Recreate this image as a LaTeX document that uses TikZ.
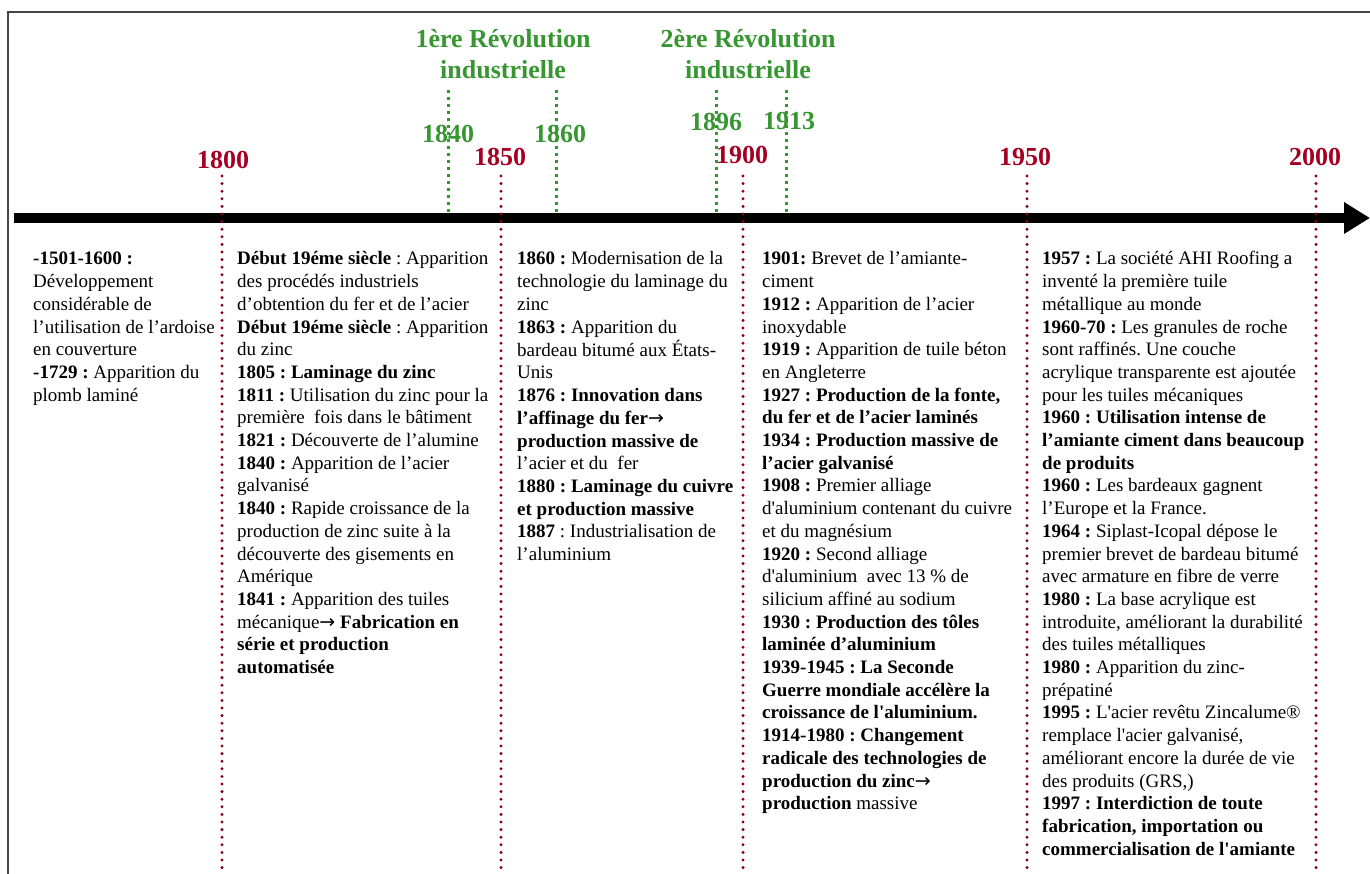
\documentclass[tikz,border=0pt]{standalone}
\usepackage{fontspec}
\setmainfont{Liberation Serif}
\newfontfamily\arrowfont{DejaVu Sans}
\usetikzlibrary{arrows.meta}
\definecolor{decred}{RGB}{165,0,33}
\definecolor{dotred}{RGB}{140,0,20}
\definecolor{revgreen}{RGB}{55,150,50}
\definecolor{framegray}{RGB}{70,70,70}
\newcommand{\tlcolumn}[1]{\begin{tabular}[t]{@{}l@{}}#1\end{tabular}}
\newcommand{\tlarrow}{{\arrowfont\mdseries\fontsize{19}{20}\selectfont →}}
\newcommand{\sq}{\textquotesingle}
\begin{document}
\begin{tikzpicture}[x=1pt,y=-1pt,
  body/.style={anchor=base west, inner sep=0pt, font=\fontsize{19}{22.7}\selectfont\frenchspacing},
  decade/.style={text=decred, font=\fontsize{26}{30}\selectfont\bfseries, inner sep=0pt},
  revyear/.style={text=revgreen, font=\fontsize{26}{30}\selectfont\bfseries, inner sep=0pt},
  revtitle/.style={text=revgreen, font=\fontsize{26}{31}\selectfont\bfseries, align=center, inner sep=0pt},
  reddots/.style={draw=dotred, line width=3.3pt, line cap=round, dash pattern=on 0pt off 7.6pt},
  greendots/.style={draw=revgreen, line width=3pt, dash pattern=on 3.5pt off 3.5pt},
  axisline/.style={line width=10pt, -{Triangle[length=26pt,width=30pt]}},
  framestyle/.style={draw=framegray, line width=1.5pt}
]
\useasboundingbox (0,0) rectangle (1370,874);
% frame
\coordinate (frTR) at (1385,12);
\coordinate (frTL) at (8,12);
\coordinate (frBL) at (8,890);
\draw[framestyle] (frTR) -- (frTL) -- (frBL);
% axis
\coordinate (axS) at (14,218);
\coordinate (axE) at (1370,218);
\draw[axisline] (axS) -- (axE);
% green revolution lines
\foreach \n/\x in {g1840/448, g1860/556, g1896/716, g1913/786}{
  \coordinate (\n t) at (\x,90);
  \coordinate (\n b) at (\x,215);
  \draw[greendots] (\n t) -- (\n b);
}
% red decade lines
\foreach \n/\x in {r1800/222, r1850/501, r1900/743, r1950/1027, r2000/1316}{
  \coordinate (\n t) at (\x,176);
  \coordinate (\n b) at (\x,874);
  \draw[reddots] (\n t) -- (\n b);
}
% headers
\node[revtitle] (rev1) at (503,54.5) {1ère Révolution\\industrielle};
\node[revtitle] (rev2) at (748,54.5) {2ère Révolution\\industrielle};
\node[revyear] (y1840) at (448,134) {1840};
\node[revyear] (y1860) at (560,134) {1860};
\node[revyear] (y1896) at (716,122) {1896};
\node[revyear] (y1913) at (789,121) {1913};
\node[decade] (d1800) at (223,160) {1800};
\node[decade] (d1850) at (500,157) {1850};
\node[decade] (d1900) at (742,155) {1900};
\node[decade] (d1950) at (1025,157) {1950};
\node[decade] (d2000) at (1315,157) {2000};
% columns
\node[body] (c1) at (33,265) {\tlcolumn{%
\textbf{-1501-1600 :}\\
Développement\\
considérable de\\
l’utilisation de l’ardoise\\
en couverture\\
\textbf{-1729 :} Apparition du\\
plomb laminé}};
\node[body] (c2) at (237,265) {\tlcolumn{%
\textbf{Début 19éme siècle} : Apparition\\
des procédés industriels\\
d’obtention du fer et de l’acier\\
\textbf{Début 19éme siècle} : Apparition\\
du zinc\\
\textbf{1805 : Laminage du zinc}\\
\textbf{1811 :} Utilisation du zinc pour la\\
première~ fois dans le bâtiment\\
\textbf{1821 :} Découverte de l’alumine\\
\textbf{1840 :} Apparition de l’acier\\
galvanisé\\
\textbf{1840 :} Rapide croissance de la\\
production de zinc suite à la\\
découverte des gisements en\\
Amérique\\
\textbf{1841 :} Apparition des tuiles\\
mécanique\tlarrow\ \textbf{Fabrication en}\\
\textbf{série et production}\\
\textbf{automatisée}}};
\node[body] (c3) at (517,265) {\tlcolumn{%
\textbf{1860 :} Modernisation de la\\
technologie du laminage du\\
zinc\\
\textbf{1863 :} Apparition du\\
bardeau bitumé aux États-\\
Unis\\
\textbf{1876 : Innovation dans}\\
\textbf{l’affinage du fer\tlarrow}\\
\textbf{production massive de}\\
l’acier et du~ fer\\
\textbf{1880 : Laminage du cuivre}\\
\textbf{et production massive}\\
\textbf{1887} : Industrialisation de\\
l’aluminium}};
\node[body] (c4) at (762,265) {\tlcolumn{%
\textbf{1901:} Brevet de l’amiante-\\
ciment\\
\textbf{1912 :} Apparition de l’acier\\
inoxydable\\
\textbf{1919 :} Apparition de tuile béton\\
en Angleterre\\
\textbf{1927 : Production de la fonte,}\\
\textbf{du fer et de l’acier laminés}\\
\textbf{1934 : Production massive de}\\
\textbf{l’acier galvanisé}\\
\textbf{1908 :} Premier alliage\\
d\sq aluminium contenant du cuivre\\
et du magnésium\\
\textbf{1920 :} Second alliage\\
d\sq aluminium~ avec 13 \% de\\
silicium affiné au sodium\\
\textbf{1930 : Production des tôles}\\
\textbf{laminée d’aluminium}\\
\textbf{1939-1945 : La Seconde}\\
\textbf{Guerre mondiale accélère la}\\
\textbf{croissance de l\sq aluminium.}\\
\textbf{1914-1980 : Changement}\\
\textbf{radicale des technologies de}\\
\textbf{production du zinc\tlarrow}\\
\textbf{production} massive}};
\node[body] (c5) at (1042,265) {\tlcolumn{%
\textbf{1957 :} La société AHI Roofing a\\
inventé la première tuile\\
métallique au monde\\
\textbf{1960-70 :} Les granules de roche\\
sont raffinés. Une couche\\
acrylique transparente est ajoutée\\
pour les tuiles mécaniques\\
\textbf{1960 : Utilisation intense de}\\
\textbf{l’amiante ciment dans beaucoup}\\
\textbf{de produits}\\
\textbf{1960 :} Les bardeaux gagnent\\
l’Europe et la France.\\
\textbf{1964 :} Siplast-Icopal dépose le\\
premier brevet de bardeau bitumé\\
avec armature en fibre de verre\\
\textbf{1980 :} La base acrylique est\\
introduite, améliorant la durabilité\\
des tuiles métalliques\\
\textbf{1980 :} Apparition du zinc-\\
prépatiné\\
\textbf{1995 :} L\sq acier revêtu Zincalume®\\
remplace l\sq acier galvanisé,\\
améliorant encore la durée de vie\\
des produits (GRS,)\\
\textbf{1997 : Interdiction de toute}\\
\textbf{fabrication, importation ou}\\
\textbf{commercialisation de l\sq amiante}}};
\end{tikzpicture}
\end{document}
